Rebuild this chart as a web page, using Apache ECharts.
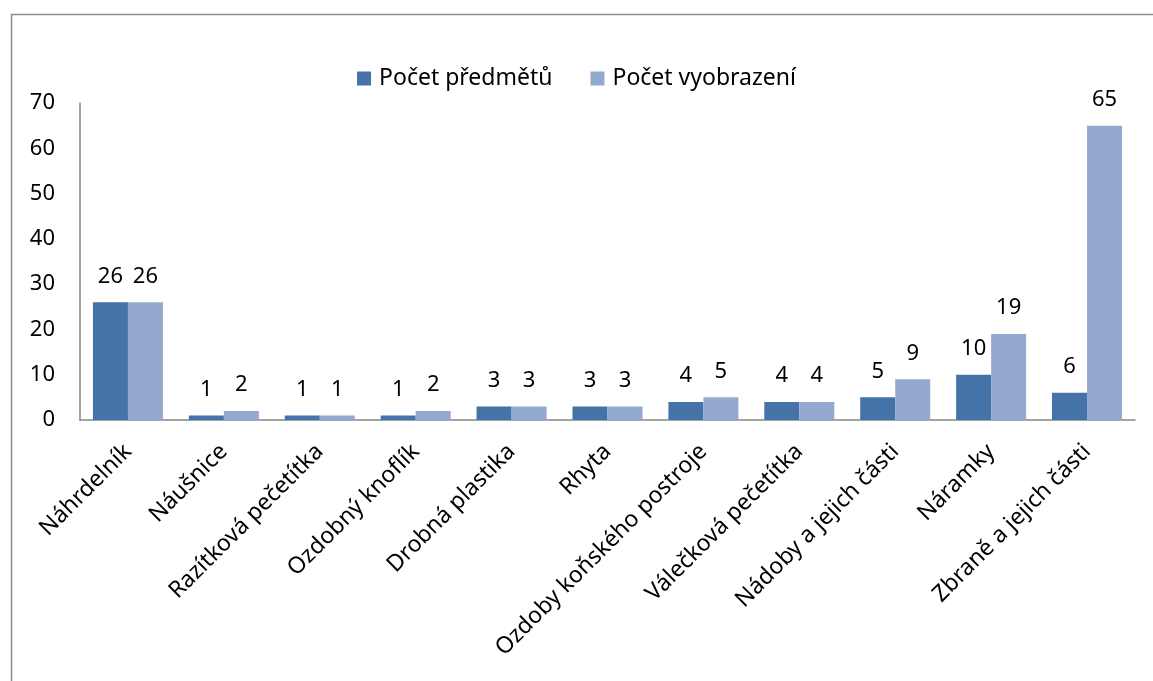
<!DOCTYPE html>
<html><head><meta charset="utf-8">
<script src="https://cdn.jsdelivr.net/npm/echarts@6/dist/echarts.min.js"></script>
<style>html,body{margin:0;padding:0;background:#fff}#c{width:1153px;height:681px}</style>
</head><body><div id="c"></div>
<script>
const categories = ["Náhrdelník","Náušnice","Razítková pečetítka","Ozdobný knoflík","Drobná plastika","Rhyta","Ozdoby koňského postroje","Válečková pečetítka","Nádoby a jejich části","Náramky","Zbraně a jejich části"];
const seriesNames = ["Počet předmětů","Počet vyobrazení"];
const pocetPredmetu = [26,1,1,1,3,3,4,4,5,10,6];
const pocetVyobrazeni = [26,2,1,2,3,3,5,4,9,19,65];
const yTicks = [0,10,20,30,40,50,60,70];

const FONT = "Noto Sans";
const FS = 22;
const chart = echarts.init(document.getElementById('c'));
const lbl = {show:true, position:'top', distance:15, color:'#000', fontFamily:FONT, fontSize:FS};
chart.setOption({
  animation:false,
  textStyle:{fontFamily:FONT},
  graphic:[{type:'rect', shape:{x:11.5,y:14.5,width:1200,height:700}, style:{fill:'none', stroke:'#8c8c8c', lineWidth:1.5}, silent:true}],
  legend:{top:62, left:'center', itemWidth:14, itemHeight:14, itemGap:38, icon:'rect',
    textStyle:{fontFamily:FONT, fontSize:FS+1, color:'#000', padding:[0,0,0,3]}, data:seriesNames},
  grid:{left:80, right:18, top:103, bottom:261, containLabel:false},
  xAxis:{type:'category', data:categories,
    axisLine:{lineStyle:{color:'#868686', width:1.5}}, axisTick:{show:false},
    axisLabel:{rotate:45, interval:0, color:'#000', fontFamily:FONT, fontSize:FS+1, margin:28}},
  yAxis:{type:'value', min:yTicks[0], max:yTicks[yTicks.length-1], interval:10,
    axisLine:{show:true, lineStyle:{color:'#868686', width:1.5}}, axisTick:{show:false},
    splitLine:{show:false},
    axisLabel:{color:'#000', fontFamily:FONT, fontSize:FS, margin:25}},
  series:[
    {name:seriesNames[0], type:'bar', data:pocetPredmetu, barGap:'0%', barCategoryGap:'27%',
      itemStyle:{color:'#4572A7'}, label:lbl},
    {name:seriesNames[1], type:'bar', data:pocetVyobrazeni, barGap:'0%', barCategoryGap:'27%',
      itemStyle:{color:'#93A9CF'}, label:lbl}
  ]
});
</script></body></html>
